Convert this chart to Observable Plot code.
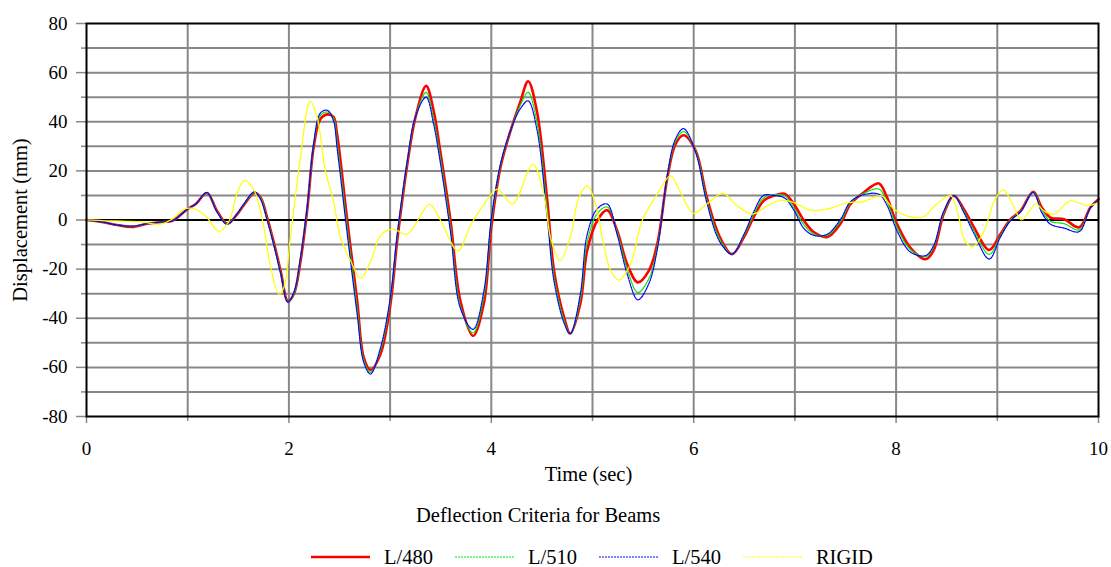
<!DOCTYPE html>
<html>
<head>
<meta charset="utf-8">
<script src="https://cdn.jsdelivr.net/npm/d3@7"></script>
<script src="https://cdn.jsdelivr.net/npm/@observablehq/plot@0.6"></script>
<style>
  body { margin: 0; background: #fff; font-family: "Liberation Serif", serif; }
  #wrap { position: relative; width: 1111px; height: 567px; overflow: hidden; background: #fff; }
  #chart { position: absolute; left: 0; top: 0; }
  #legendTitle { position: absolute; left: 416px; top: 504px; font-size: 20.5px; line-height: 22px; white-space: nowrap; color: #000; }
  #legend { position: absolute; left: 311px; top: 546px; height: 22px; display: flex; align-items: center; font-size: 20.5px; white-space: nowrap; color: #000; }
  .item { display: flex; align-items: center; margin-right: 22px; }
  .item svg { display: block; }
  .item span { margin-left: 14px; line-height: 22px; }
</style>
</head>
<body>
<div id="wrap">
  <div id="chart"></div>
  <div id="legendTitle"></div>
  <div id="legend"></div>
</div>
<script>
// ---- data ----
const seriesNames = ["L/480", "L/510", "L/540", "RIGID"];
const legendTitle = "Deflection Criteria for Beams";
const xLabel = "Time (sec)";
const yLabel = "Displacement (mm)";

const xLabelTicks = [0, 2, 4, 6, 8, 10];
const xMinorTicks = [1, 3, 5, 7, 9];
const xGridValues = [1, 2, 3, 4, 5, 6, 7, 8, 9];
const yLabelTicks = [-80, -60, -40, -20, 0, 20, 40, 60, 80];
const yMinorTicks = [-70, -50, -30, -10, 10, 30, 50, 70];
const yGridValues = [-70, -60, -50, -40, -30, -20, -10, 10, 20, 30, 40, 50, 60, 70];

const beamTime = [
  0, 0.15, 0.3, 0.45, 0.6, 0.75, 0.85, 1.0, 1.08, 1.19,
  1.29, 1.39, 1.49, 1.55, 1.66, 1.72, 1.785, 1.85, 1.92, 1.99,
  2.05, 2.11, 2.18, 2.246, 2.31, 2.38, 2.44, 2.477, 2.576, 2.675,
  2.74, 2.806, 2.905, 3.004, 3.07, 3.17, 3.25, 3.356, 3.43, 3.49,
  3.597, 3.695, 3.82, 3.926, 4.0, 4.09, 4.19, 4.29, 4.364, 4.45,
  4.55, 4.62, 4.72, 4.78, 4.88, 4.947, 5.046, 5.145, 5.244, 5.343,
  5.448, 5.556, 5.64, 5.74, 5.82, 5.9, 6.02, 6.13, 6.26, 6.38,
  6.495, 6.59, 6.69, 6.79, 6.897, 6.99, 7.09, 7.19, 7.32, 7.45,
  7.55, 7.68, 7.83, 7.91, 8.01, 8.14, 8.29, 8.37, 8.47, 8.57,
  8.67, 8.77, 8.92, 9.03, 9.13, 9.23, 9.355, 9.44, 9.525, 9.66,
  9.81, 9.92, 10.0
];
const l480 = [
  0, -0.8, -2, -2.8, -1.5, -0.8, -0.3, 4.5, 6.5, 11,
  3.7, -1.4, 2.4, 5.8, 11, 9.2, 1, -9, -21, -33,
  -30, -18, 3.7, 30, 41, 43, 42, 34.6, 0, -33,
  -56, -61, -54.6, -34, -8.5, 22.7, 41.7, 54.6, 44.5, 29.5,
  -0.3, -33, -47.2, -34, -3, 21.4, 36.3, 48.5, 56.5, 44.5,
  9.2, -20.7, -39.7, -46.2, -34, -12.5, -0.3, 4, -4.4, -18,
  -25.4, -20.7, -9.8, 17.3, 30.9, 34.5, 28.2, 9.2, -7.1, -13.9,
  -7.1, 1, 7.8, 9.9, 10.7, 6.5, -0.3, -5, -6.9, -1.5,
  6.5, 11.2, 14.9, 9.2, -1.7, -11.2, -16, -12.5, 2.4, 9.9,
  4.4, -3, -12.2, -5.8, 0.3, 3.7, 11.5, 5.1, 1, 0.3,
  -3, 5.1, 8.5
];
const l510 = [
  0, -0.8, -2, -2.6, -1.5, -0.8, -0.3, 4.5, 6.5, 11,
  3.5, -1.6, 2.5, 6, 11.2, 9, 0.5, -9.5, -21.5, -33.3,
  -30, -17, 4.5, 31, 42.5, 44, 41.5, 31.5, -3, -36,
  -57, -62, -53, -32, -7, 23.5, 42, 52, 41, 27,
  -3, -35, -46, -31, -1, 22, 36.5, 47, 52, 40,
  5, -23, -41, -46.3, -32, -9, 2.5, 5.3, -5, -20,
  -29.5, -24, -11, 18, 32, 36, 28, 8, -8, -13.9,
  -6.5, 2, 9, 10.2, 10, 5, -2, -5.8, -6.2, -0.5,
  7, 10.8, 12.6, 7.5, -3, -12, -15, -11, 3, 9.9,
  3.5, -4.5, -14, -6.5, 0, 3.5, 11.3, 4, -0.5, -1.5,
  -4, 5, 8.3
];
const l540 = [
  0, -0.8, -2, -2.5, -1.5, -0.8, -0.3, 4.5, 6.5, 11.2,
  3.3, -1.8, 2.6, 6.2, 11.5, 8.5, 0, -10, -22, -33.5,
  -29.5, -16.5, 5, 31.5, 43.5, 44.7, 40.5, 29, -5.5, -38.5,
  -58, -62.7, -52, -31, -6, 24, 42, 50, 39, 25,
  -5, -36, -44.5, -29, 0.5, 22.5, 36.5, 45.5, 48.5, 37,
  2, -25, -42, -46.3, -30, -6, 4.5, 6.5, -6, -22,
  -32.5, -26, -12, 18.5, 33, 37.2, 27.5, 7, -9, -13.9,
  -6, 3, 10, 10, 9, 4, -3.5, -6.3, -5.8, 0.2,
  7.5, 10.3, 10.5, 6, -4.5, -13, -14.5, -10.5, 3.5, 9.9,
  3, -5.5, -15.9, -7, -0.3, 3.3, 11.2, 3, -1.7, -3.3,
  -4.7, 5, 8.2
];

const rigidTime = [
  0, 0.2, 0.4, 0.55, 0.73, 0.85, 0.96, 1.03, 1.1, 1.19,
  1.31, 1.41, 1.49, 1.56, 1.65, 1.74, 1.82, 1.9, 1.95, 2.015,
  2.11, 2.21, 2.28, 2.36, 2.44, 2.51, 2.61, 2.71, 2.81, 2.905,
  3.02, 3.17, 3.27, 3.39, 3.5, 3.67, 3.8, 3.93, 4.06, 4.21,
  4.41, 4.52, 4.585, 4.68, 4.78, 4.865, 4.95, 5.03, 5.11, 5.18,
  5.26, 5.375, 5.49, 5.64, 5.77, 5.87, 6.0, 6.13, 6.29, 6.43,
  6.58, 6.73, 6.86, 6.99, 7.15, 7.32, 7.45, 7.52, 7.68, 7.85,
  7.98, 8.14, 8.27, 8.4, 8.54, 8.62, 8.68, 8.76, 8.87, 8.97,
  9.06, 9.15, 9.24, 9.33, 9.38, 9.46, 9.56, 9.72, 9.89, 10
];
const rigid = [
  0, -0.3, -0.5, -0.8, -1.7, 0.5, 4.4, 4.8, 4, 1,
  -4.7, -0.3, 11.2, 16, 12.6, -0.3, -19.3, -30.2, -27.5, -7.1,
  24.1, 48.3, 41.7, 20, 7.8, -7.1, -16.6, -23.7, -16.6, -6.4,
  -3.7, -5.8, -0.3, 6.5, -0.3, -12.5, -1.7, 6.5, 12.6, 6.5,
  22.7, 10.5, -7.1, -16.6, -7.1, 9.2, 13.9, 6.5, -9.8, -20.7,
  -24.5, -18, -0.3, 10.5, 18, 11.2, 2.7, 6.5, 10.8, 5.8,
  2.4, 5.8, 8.1, 7.1, 4, 4.4, 6.2, 7.1, 7.5, 9.9,
  4.4, 1.3, 1.3, 6.5, 9.9, 1, -8.5, -10.9, -4.4, 7.8,
  12.3, 6.5, 0, 4.4, 6.7, 3.7, 2.4, 7.8, 5.8, 7.1
];

const serifFont = '"Liberation Serif", serif';

// ---- styles per series ----
const styles = {
  "L/480": {stroke: "#ff0000", strokeWidth: 2.6, dash: null},
  "L/510": {stroke: "#00e600", strokeWidth: 1.2, dash: "2,1"},
  "L/540": {stroke: "#0000ff", strokeWidth: 1.2, dash: "2,1"},
  "RIGID": {stroke: "#ffff00", strokeWidth: 1.2, dash: null}
};

const rows = [];
[l480, l510, l540].forEach((vals, i) => {
  vals.forEach((v, j) => rows.push({series: seriesNames[i], t: beamTime[j], v}));
});
rigid.forEach((v, j) => rows.push({series: "RIGID", t: rigidTime[j], v}));

const lineMarks = seriesNames.map(name => Plot.line(rows.filter(d => d.series === name), {
  x: "t", y: "v",
  stroke: styles[name].stroke,
  strokeWidth: styles[name].strokeWidth,
  strokeDasharray: styles[name].dash,
  curve: "catmull-rom"
}));

const chart = Plot.plot({
  width: 1111,
  height: 490,
  marginLeft: 86,
  marginRight: 13,
  marginTop: 23,
  marginBottom: 74,
  x: {domain: [0, 10]},
  y: {domain: [-80, 80]},
  style: {fontFamily: serifFont, fontSize: "19px", background: "white", color: "black", overflow: "visible"},
  marks: [
    Plot.ruleX(xGridValues, {stroke: "#888888", strokeWidth: 2}),
    Plot.ruleY(yGridValues, {stroke: "#888888", strokeWidth: 2}),
    Plot.ruleY([0], {stroke: "black", strokeWidth: 2}),
    Plot.axisY(yLabelTicks, {tickSize: 10, tickPadding: 9, stroke: "#888888", strokeWidth: 1.5, fill: "black", label: null, tickFormat: d => String(d)}),
    Plot.axisY(yMinorTicks, {tickSize: 5, stroke: "#888888", strokeWidth: 1.5, label: null, tickFormat: () => ""}),
    Plot.axisX(xLabelTicks, {tickSize: 7, tickPadding: 18, stroke: "#888888", strokeWidth: 1.5, fill: "black", label: null, tickFormat: d => String(d)}),
    Plot.axisX(xMinorTicks, {tickSize: 5, stroke: "#888888", strokeWidth: 1.5, label: null, tickFormat: () => ""}),
    ...lineMarks,
    Plot.frame({stroke: "black", strokeWidth: 2}),
    Plot.text([xLabel], {frameAnchor: "bottom", dy: 58, dx: -4, lineAnchor: "middle", textAnchor: "middle", fontSize: 20.5, fill: "black"}),
    Plot.text([yLabel], {frameAnchor: "left", dx: -66, rotate: -90, lineAnchor: "middle", textAnchor: "middle", fontSize: 20.5, fill: "black"})
  ]
});
document.getElementById("chart").appendChild(chart);

// ---- legend (HTML, below the SVG) ----
document.getElementById("legendTitle").textContent = legendTitle;
const legend = document.getElementById("legend");
seriesNames.forEach(name => {
  const s = styles[name];
  const item = document.createElement("div");
  item.className = "item";
  const ns = "http://www.w3.org/2000/svg";
  const sw = document.createElementNS(ns, "svg");
  sw.setAttribute("width", "59");
  sw.setAttribute("height", "10");
  const ln = document.createElementNS(ns, "line");
  ln.setAttribute("x1", "0"); ln.setAttribute("x2", "59");
  ln.setAttribute("y1", "5"); ln.setAttribute("y2", "5");
  ln.setAttribute("stroke", s.stroke);
  ln.setAttribute("stroke-width", name === "L/480" ? 2.6 : 1.2);
  ln.setAttribute("stroke-dasharray", name === "L/480" ? "none" : "2,1");
  sw.appendChild(ln);
  const label = document.createElement("span");
  label.textContent = name;
  item.appendChild(sw);
  item.appendChild(label);
  legend.appendChild(item);
});
</script>
</body>
</html>
